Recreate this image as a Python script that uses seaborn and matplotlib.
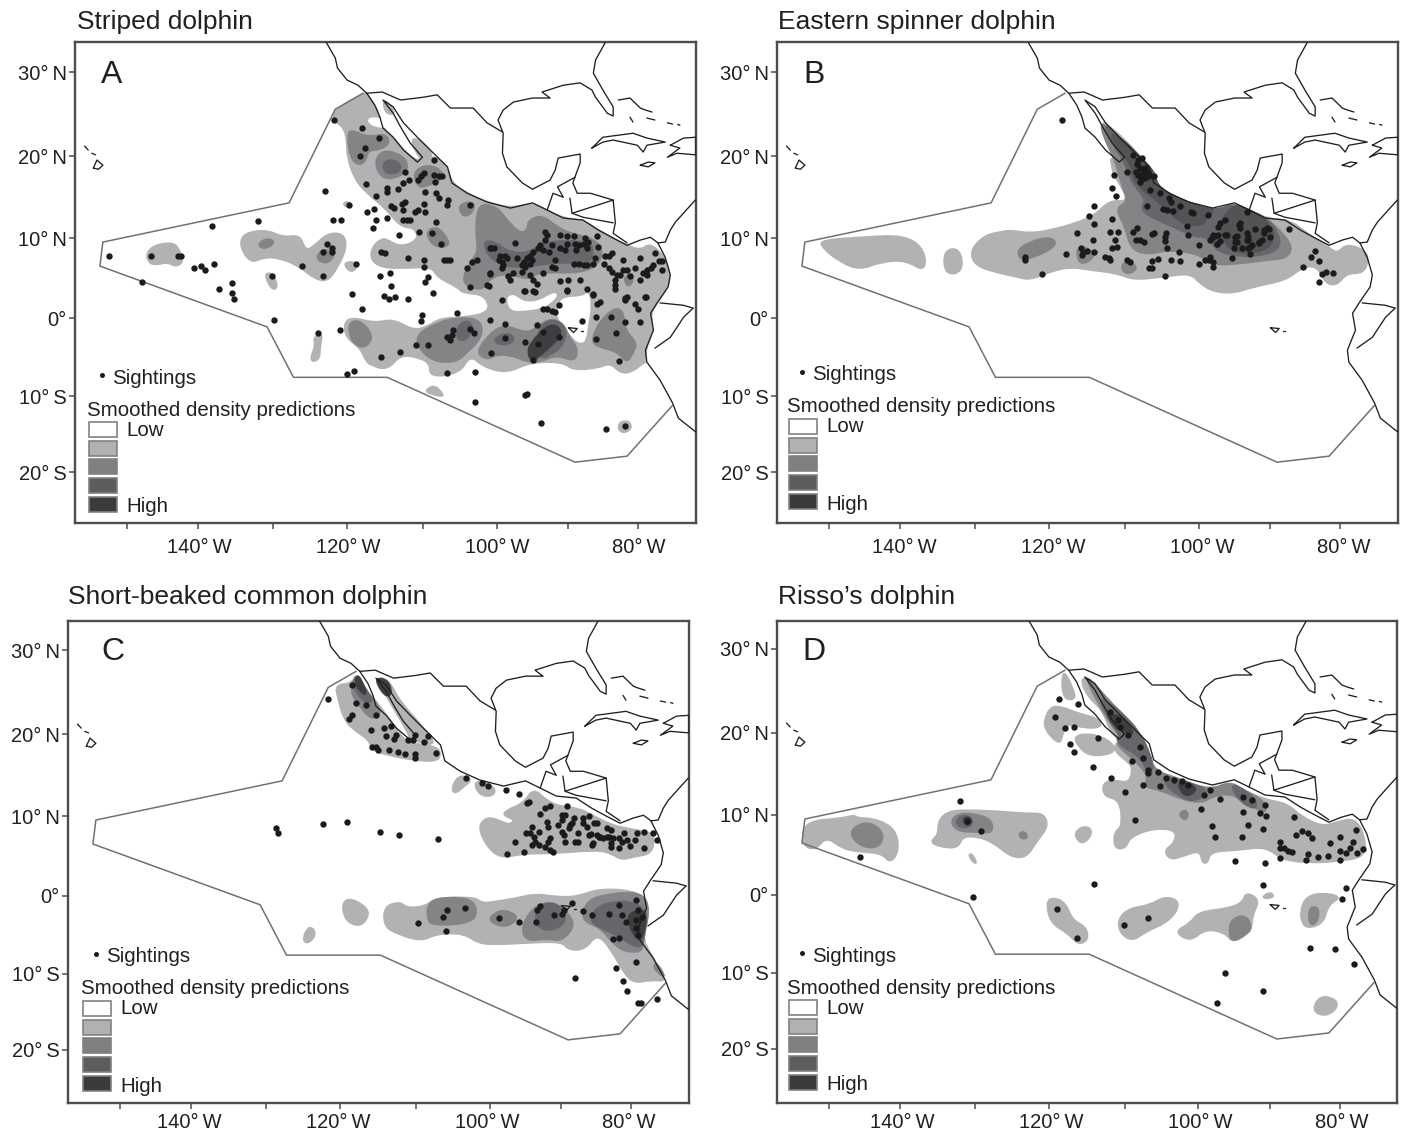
import matplotlib
matplotlib.use("Agg")
import matplotlib.pyplot as plt
import seaborn as sns
import pandas as pd
from matplotlib.patches import Rectangle, PathPatch
from matplotlib.path import Path
from matplotlib.lines import Line2D
from matplotlib.transforms import Affine2D

W, H = 1407, 1134
sns.set_theme(style="white")
plt.rcParams["font.family"] = ["Liberation Sans", "DejaVu Sans"]
TXT = "#231f20"

TITLES = ["Striped dolphin", "Eastern spinner dolphin", "Short-beaked common dolphin", "Risso\u2019s dolphin"]
LETTERS = ["A", "B", "C", "D"]
X_TICKS = [-149.7, -140, -129.8, -119.7, -109.3, -99.3, -89.5, -80]
X_LABELS = ["", "140\u00b0\u2009W", "", "120\u00b0\u2009W", "", "100\u00b0\u2009W", "", "80\u00b0\u2009W"]
Y_TICKS = [30.75, 20.25, 10, 0, -9.75, -19.25]
Y_LABELS = ["30\u00b0\u2009N", "20\u00b0\u2009N", "10\u00b0\u2009N", "0\u00b0", "10\u00b0\u2009S", "20\u00b0\u2009S"]
LEGEND_LABELS = ["Sightings", "Smoothed density predictions", "Low", "High"]

# ---- base map (lon, lat) ----
WEST_COAST = [(-122.5,34.4),(-121.3,32.5),(-121,31.25),(-119.7,29.75),(-118.2,29.1),(-117,28.1),(-115.9,26.6),(-115.2,25.1),(-114.8,23.75),(-113.4,22.6),(-112,21),(-110.1,19.5),(-109.4,20.1),(-111.1,21.9),(-112.4,23.9),(-113.4,25.6),(-114.8,27.25),(-113.4,26.4),(-112,24.4),(-110,22.5),(-107.9,20.6),(-106,18.9),(-105.4,16.9),(-103.3,15.6),(-100.6,14.5),(-97.4,13.75),(-94.4,14.4),(-92.4,13.5),(-90.2,12.5),(-87.5,12.25),(-85.4,11),(-83.4,10),(-81.5,9.1),(-79.7,9.75),(-78.3,10.1),(-77.3,9.4),(-76.3,7.6),(-75.6,5.4),(-75.9,3.9),(-77.4,1.9),(-78.3,0.6),(-77.9,-1.5),(-79,-4),(-78.8,-5.5),(-77,-7.75),(-75.3,-10.6),(-74.5,-12.5),(-72.1,-14.25)]
US_BORDER = [(-117,28.1),(-114.9,28.25),(-112.4,27.25),(-109.3,27.6),(-107.4,27.9),(-105.6,26.25),(-103.9,26.25),(-102.5,26.25),(-100.6,24.4),(-98.5,23.25)]
GULF_COAST = [(-84.5,34.4),(-85.8,32.25),(-86.1,30.6),(-84.8,28.5),(-83.4,26.4),(-83.4,25.25),(-84.2,25.6),(-85.8,27.6),(-86.3,28.5),(-87.9,29.4),(-90.2,29.1),(-93.1,28.25),(-92,27.5),(-94.4,27.5),(-97,27),(-98.4,26),(-99.1,24.75),(-98.4,23.1),(-98.5,20.6),(-97.9,18.9),(-95.8,16.9),(-94.4,16.1),(-92,17.25),(-91.3,18.5),(-90.9,20),(-87.9,20.5),(-87.9,19.4),(-88.9,16.9),(-88.3,15.6),(-86.5,15.6),(-83.4,14.75),(-83.1,11.9),(-83.4,10.6),(-81.5,9.4)]
COLOMBIA_N = [(-77.3,9.4),(-76.3,9.5),(-75.6,11),(-74.9,12),(-72.2,14.75)]
BORDER_1 = [(-92.4,13.5),(-91.6,15.6),(-90.2,15.1),(-91,16.4),(-88.6,17.6)]
BORDER_2 = [(-89.3,15),(-89,13.1),(-87.5,12.6),(-83.4,11.9)]
BORDER_3 = [(-89,13.1),(-85.6,14.1),(-83.4,14.75)]
ECUADOR_N = [(-77,1.9),(-73.8,1.6),(-72.5,1.25)]
ECUADOR_S = [(-72.5,1.25),(-73.8,0.1),(-75.6,-2.4),(-77.7,-3.75)]
CUBA = [(-86.3,21.25),(-84.8,22.6),(-80.7,23.1),(-78.8,22.5),(-76.3,22),(-78.8,21.6),(-79.3,20.75),(-80.1,21.6),(-83.4,22.25),(-84.8,22),(-86.3,21.25)]
HISPANIOLA = [(-75.6,21.6),(-73.8,22.5),(-72.1,22.6),(-72.1,20.4),(-74.7,20.6),(-76,20.1),(-74.3,21.25),(-75.6,21.6)]
JAMAICA = [(-79.7,19.1),(-78.6,19.5),(-77.7,19.4),(-78.6,18.9),(-79.7,19.1)]
BAHAMAS_1 = [(-82.7,27.25),(-81.1,27.5),(-79.7,26.25),(-79,26),(-78.1,25.75)]
BAHAMAS_2 = [(-81.1,25.1),(-80.7,24.5)]
BAHAMAS_3 = [(-78.8,25),(-77.7,24.75)]
BAHAMAS_4 = [(-76,24.4),(-75.3,24.25)]
BAHAMAS_5 = [(-74.6,24.2),(-74.3,24.1)]
HAWAII_BIG = [(-154.3,18.75),(-153.8,19.75),(-153,19.1),(-153.6,18.6),(-154.3,18.75)]
HAWAII_1 = [(-155.5,21.5),(-155,21)]
HAWAII_2 = [(-154.5,20.6),(-154,20.4)]
GALAPAGOS = [(-89.5,-1.2),(-88.8,-1.8),(-88.3,-1.3),(-89.5,-1.2)]
GALAPAGOS_2 = [(-87.8,-1.6),(-87.5,-1.6)]
COAST_LINES = [WEST_COAST, US_BORDER, GULF_COAST, COLOMBIA_N, BORDER_1, BORDER_2, BORDER_3, ECUADOR_N, ECUADOR_S, CUBA, HISPANIOLA, JAMAICA, BAHAMAS_1, BAHAMAS_2, BAHAMAS_3, BAHAMAS_4, BAHAMAS_5, HAWAII_BIG, HAWAII_1, HAWAII_2, GALAPAGOS, GALAPAGOS_2]
STUDY_AREA = [(-117.5,28.1),(-121.3,26.1),(-127.6,14.4),(-153,9.5),(-153.4,6.5),(-130.6,-1.1),(-127,-7.4),(-114.2,-7.4),(-88.6,-18),(-81.5,-17.25),(-75.3,-10.9)]

# ---- Panel A ----
A_SIGHT = [(-152.1,7.75),(-146.4,7.7),(-142.8,7.75),(-142.4,7.8),(-140.6,6.2),(-139.6,6.5),(-139.1,6),(-137.8,6.75),(-138.1,11.5),(-131.8,12.1),(-147.7,4.5),(-135.4,4.4),(-137.2,3.7),(-129.9,5.25),(-125.8,6.5),(-123,5.3),(-123,8.2),(-121.8,8.7),(-121.8,8.3),(-122.4,9.25),(-118.5,6.8),(-115.2,5.25),(-113.8,5.6),(-113.7,4),(-122.7,15.9),(-119.4,14.1),(-121.6,12.2),(-120.5,12.3),(-117,13.2),(-116,13.6),(-115.8,12.2),(-116.2,11.3),(-114.2,12.5),(-112.6,10.4),(-112,12.25),(-115.1,8.3),(-114.5,8.1),(-111.4,7.5),(-121.5,24.7),(-117.6,23.8),(-115.3,22.5),(-117.3,21.3),(-117.9,20.3),(-117.1,16.7),(-115.8,15.3),(-114.3,16.2),(-114.3,15.7),(-112.7,16.1),(-113.7,14),(-113.3,13.7),(-112.2,14.3),(-111.8,14.5),(-112.1,13.5),(-111.8,18.3),(-112,16.9),(-111.3,17.25),
(-135.4,3.2),(-135.1,2.45),(-129.6,-0.25),(-123.6,-1.8),(-120.7,-1.5),(-119.7,-7),(-118.8,-6.6),(-115,-4.9),(-112.5,-4.2),(-117.7,1.1),(-119,3),(-114.6,2.8),(-114,2.4),(-113.1,2.6),(-111.4,2.45),
(-109.6,17.7),(-109.2,18.1),(-110,17.25),(-107.9,19.8),(-107.9,17.9),(-107.2,17.7),(-107.7,17),(-106.8,17.8),(-109,15.8),(-107.5,15.6),(-107.1,15),(-105.9,14.7),(-106.1,14.1),(-109.2,14.3),(-109,13.2),(-110.4,13.3),(-110,13.5),(-111.5,12.3),(-111.1,12.2),(-107.5,12),(-109.9,10.8),(-108.1,10.6),(-106.9,9.3),(-102.9,14.1),(-106.1,7.25),(-106.5,7.25),(-105.6,7.25),(-109.2,7.3),(-109.2,6.4),(-108.7,5.1),(-109,4.5),(-103.4,6.2),(-102.7,7),(-102,7.25),(-102.9,3.9),(-100.4,4),(-100.2,5.5),(-100,8.8),(-96.8,9.4),
(-108,3.2),(-109.5,0.4),(-109.6,-0.3),(-104.7,0.7),(-110.3,-3.3),(-108.7,-3.3),(-106.1,-2.4),(-105.6,-2.7),(-105.2,-1.5),(-102.9,-1.4),(-102.4,-1.8),(-105.4,-2.1),(-106,-6.8),(-102.3,-6.7),(-100.2,-0.25),(-98.1,-0.7),(-98.1,-2.5),(-100,-4.3),(-95.4,-3),(-93.8,-0.9),(-92.9,-1.7),(-93.6,-3.2),(-90.8,-2.3),(-94.3,-5.25),(-93,1.2),(-92.4,1.2),(-91.8,0.9),(-91.3,0.8),(-90.8,1.6),(-87.7,-0.4),(-85.8,0.2),(-85.6,1.8),(-85.2,2),(-83.7,0.2),(-85.7,-2.55),(-83,-1.9),(-82.6,-5.35),(-81.8,2.5),(-80.4,1.8),(-80,1.2),(-81.8,-0.5),(-79.8,-0.5),(-78.9,2.6),(-86.1,3),(-89.7,3.5),(-94,3.3),(-95.4,3.4),(-98.6,2.25),(-102.2,-10.5),(-95.4,-9.6),(-95.1,-9.5),(-93.2,-13.1),(-84.4,-13.8),(-81.8,-13.5)]
A_CLUSTER = [(-100.2,8.8),(-99.7,8.8),(-98.8,7.7),(-98.1,7.8),(-97.9,7.45),(-98.6,7),(-99,7.25),(-98.4,6.6),(-98.6,6.2),(-96.5,7.45),(-95.6,7),(-95.9,6.6),(-95.2,7.45),(-94.7,7.7),(-94.3,8.3),(-94.5,7.25),(-95.4,6.4),(-94.7,6.8),(-93.6,8.7),(-93.4,9.1),(-92.7,9.75),(-92.4,10.4),(-92.7,10.8),(-92.9,8.5),(-92.2,8.3),(-91.8,9.1),(-90.6,8.7),(-90.6,10.4),(-89.7,10.2),(-88.8,10.2),(-89.7,9.3),(-89.9,8.5),(-88.6,9.3),(-88.1,9.1),(-88.4,8.5),(-87.2,10),(-86.8,9.55),(-87,8.7),(-87.4,9.3),(-85.6,10.2),(-85.4,8.9),(-85.9,7.45),(-86.1,6.7),(-88.1,6.7),(-87.4,6.6),(-87,6.6),(-88.8,6.7),(-91.8,6.4),(-91.3,6.2),(-91.3,7.25),(-92.9,5.6),(-94.7,5.4),(-95.9,5.8),(-97,5.6),(-97.7,5.2),(-97.5,4.75),(-100.2,5.6),(-100.6,4.1),(-94.3,4.75),(-93.8,4.3),(-95.6,3.4),(-94.3,3.4),(-90.6,4.6),(-89.5,4.75),(-87.9,4.75),(-89.7,3.4),(-87,3.6),(-86.1,2.95),
(-84.5,7.7),(-84,7.7),(-83.6,8.1),(-84.7,6.7),(-84,6.2),(-83.6,5.8),(-82.9,5.4),(-83.1,4.75),(-83.1,4.1),(-83.1,3.6),(-82.4,5.4),(-82,7.25),(-80.4,6.3),(-81.5,6),(-82,6),(-79.7,7.45),(-78.8,6),(-78.3,6.2),(-79.3,5.6),(-78.8,5.4),(-77.9,6.6),(-77.7,8.1),(-77.2,7.1),(-76.8,7.1),(-76.8,6),(-79.7,4.75),(-81.1,5.2),(-81.5,2.7),(-81.8,2.25),(-79,2.7)]
A_L1 = [
[(-121.3,26.1),(-117.5,28.1),(-117,28.1),(-115.9,26.6),(-115.2,25.1),(-114.8,23.75),(-113.4,22.6),(-112,21),(-110.1,19.5),(-107.9,20.4),(-106,18.9),(-105.4,16.9),(-103.3,15.6),(-100.6,14.5),(-97.4,13.75),(-94.4,14.4),(-92.4,13.5),(-90.2,12.5),(-87.5,12.25),(-85.4,11),(-83.4,10),(-81.5,9.1),(-79.7,8.5),(-78.3,9.4),(-76.3,7.6),(-75.6,5.4),(-75.9,3.9),(-77.4,1.9),(-78.3,.6),(-77.9,-1.5),(-79,-4),(-78.8,-5.5),(-79.7,-5.25),(-100.2,-.25),(-100.6,2.9),(-103.9,3.1),(-104.7,3.9),(-107.4,5.1),(-108.1,6.4),(-111.5,6.25),(-114.8,6.25),(-116.5,7.25),(-116.3,8.9),(-114.9,10),(-114.1,9.75),(-112.4,8.9),(-110,9.75),(-110.4,11.25),(-112.4,11.4),(-114.5,13.75),(-117,15.6),(-118.6,17.25),(-119.7,20.1),(-119.7,22.25),(-120.2,23.9),(-121.7,24.75)],
[(-120.1,-.5),(-118.9,.1),(-115.9,-.6),(-113.4,-.1),(-110.7,-1.5),(-108.8,-1.1),(-107,0),(-103.9,.1),(-100.6,.6),(-100.2,2.25),(-90.6,2.25),(-79.7,1),(-78.8,-5.5),(-79.3,-5.6),(-80.8,-6.75),(-82.4,-6.9),(-83.8,-5.6),(-85.4,-6.25),(-88.9,-6.5),(-90.2,-5.5),(-94.7,-5.5),(-97.9,-6.9),(-101.1,-6.1),(-102.9,-4.6),(-104.3,-6.9),(-108.4,-7.4),(-108.4,-5.6),(-110.1,-4.9),(-112.4,-4.6),(-114.2,-6.5),(-116.5,-5.9),(-117.2,-5.25),(-117.9,-3.75),(-119.9,-2.4)],
[(-147.1,8),(-146.1,9.1),(-143.4,9.5),(-142.5,8.5),(-142,7),(-143.1,6.4),(-144.2,7),(-145.9,6.6),(-146.8,7)],
[(-134.3,9.75),(-133.3,10.75),(-130.5,11),(-128.4,10.1),(-126.1,10.4),(-125.4,8.5),(-124.3,8.9),(-122.4,10.6),(-120.2,10.6),(-119.7,8.9),(-120.9,6.4),(-122.4,4.5),(-124.3,5),(-126.1,6.4),(-128.8,7.5),(-131.1,7.6),(-132.6,6.9),(-133.9,8.1)],
[(-120.2,14.4),(-119.5,14.6),(-119,13.9),(-120,13.9)],
[(-120.1,6.9),(-118.9,7.1),(-118.2,6.6),(-118.9,5.75),(-119.7,6.1)],
[(-130.9,5.6),(-129.8,5.6),(-129.1,3.9),(-129.8,3.5),(-130.5,4.4)],
[(-124.3,-2.4),(-123,-1.9),(-123.4,-3.6),(-123.4,-5),(-124.3,-5.5),(-124.7,-5),(-124,-3.4)],
[(-109,-9),(-107.9,-8.4),(-107,-9),(-106.4,-9.9),(-108.6,-9.4)],
[(-114.8,27.25),(-113.8,26.75),(-113.1,25.4),(-114.5,25.6)],
[(-111.1,22.25),(-110,22.5),(-107.9,20.6),(-108.6,19.1),(-109.7,19.75)],
[(-82.6,-13),(-81.3,-12.8),(-80.8,-13.7),(-81.8,-14.4),(-82.7,-14)],
]
A_HOLES = [
[(-97.9,2.5),(-97,2.9),(-96.1,2.25),(-95.1,1.9),(-93.4,2.1),(-91.6,3.1),(-91,2.9),(-92,1.9),(-93.4,1.25),(-95.7,1),(-97.4,1)],
[(-90.6,2.5),(-87.5,2.6),(-86.8,3.25),(-86.5,1.4),(-86.9,-.6),(-87.2,-2.75),(-87.9,-3.1),(-88.9,-2.4),(-90.2,-.9),(-90.9,.1),(-90.9,.75)],
[(-117,24.75),(-115.9,25.1),(-114.2,24.5),(-113.8,23.9),(-115.9,23.9)],
]
A_L2 = [
[(-119.7,23.1),(-118.9,23.5),(-116.8,22.6),(-114.5,23.1),(-113.8,21.9),(-115.2,21),(-116.8,21),(-117.2,19.5),(-118.2,19.1),(-119.3,20.1)],
[(-115.9,19.75),(-114.9,20.9),(-113.1,20.75),(-111.5,19.75),(-111.5,18.25),(-113.8,17.25),(-115.4,17.9)],
[(-110.7,18.1),(-109.3,19.1),(-107.4,18.9),(-106.3,17.6),(-108.4,16.6),(-110,16.25)],
[(-104.5,13.9),(-103.6,14.5),(-102.2,14.4),(-102.6,13.1),(-103.9,12.6)],
[(-108.8,11),(-107.4,11.4),(-106.3,10.4),(-105.6,9.1),(-107.3,8.75),(-108.6,9.75)],
[(-101.8,14.4),(-99.2,13.9),(-97.9,12.25),(-96.1,10.6),(-95.1,11),(-95,12.25),(-93.1,12.9),(-91,11.4),(-89.3,10.6),(-86.1,10),(-84.8,8.5),(-85.2,6.9),(-87.5,5.6),(-93.8,5.75),(-94.7,4.75),(-97.9,5.6),(-100.2,5),(-101.1,3.5),(-103.3,3.9),(-104,5.1),(-102.6,7.25),(-101.8,8.5),(-102.2,11)],
[(-82,5.1),(-80.8,5.6),(-80.7,4.4),(-81.5,3.9)],
[(-86.5,-3.1),(-85.4,-.6),(-83.4,1.25),(-82,1),(-81.8,-1.5),(-80.1,-3.1),(-80.7,-4.4),(-81.5,-5.6),(-82.8,-4.25),(-84.8,-3.75)],
[(-119.4,-.5),(-117.9,-.25),(-116.3,-1.9),(-116.5,-3.1),(-117.6,-3.75),(-118.9,-3.1),(-119.4,-1.9)],
[(-131.8,9.4),(-130.5,10),(-129.5,9.5),(-130.5,8.75),(-131.5,8.75)],
[(-124,7.6),(-122.9,8.75),(-121.3,8.1),(-122,7),(-123.1,6.9)],
[(-110.1,-1.9),(-107.4,-.6),(-105.2,0),(-101.9,0),(-101.1,-1.5),(-101.9,-3.1),(-103.3,-4.25),(-104.7,-5.5),(-107.9,-5.5),(-110.1,-3.6)],
[(-102.2,-4.25),(-99.8,-1.5),(-97.9,-.9),(-95.1,-1.9),(-93.8,-1.1),(-92,0),(-90.2,-.6),(-89.3,-2.5),(-88.2,-3.75),(-88.6,-5.5),(-91,-4.6),(-93.4,-5.5),(-95.1,-5.5),(-97.4,-4.6),(-99.5,-4.6),(-100.6,-5.25)],
]
A_L3 = [
[(-114.9,19.4),(-113.5,19.9),(-112.2,19.1),(-112.7,18.1),(-114.5,18)],
[(-100.9,9.75),(-99.2,9.4),(-97.7,8.25),(-95.1,8.1),(-92.9,9.4),(-89.7,9.75),(-86.5,9.4),(-86.1,8.5),(-86.5,6.9),(-88.3,6.9),(-92,6.9),(-94.7,6.4),(-97.9,6.4),(-99.8,7.25),(-100.9,8.5)],
[(-104.7,-.9),(-103.2,-.25),(-102.5,-1.1),(-103.3,-2.75),(-104.7,-2.75)],
[(-99.8,-2.75),(-98.4,-1.9),(-97,-2.1),(-97,-3.1),(-98.8,-3.4)],
[(-93.8,-1.25),(-91.6,0),(-89.7,-1.25),(-90.2,-3.4),(-91.6,-4.4),(-93.4,-5.25)],
]
A_L5 = [[(-94.7,-3.1),(-92.4,-.9),(-90.9,-.9),(-90.4,-2.1),(-92,-3.6),(-93.8,-5),(-94.4,-5.5),(-95.1,-4.4)]]

# ---- Panel B ----
B_SIGHT = [(-117.95,24.75),(-110.9,17.9),(-111.1,16.3),(-110.5,15.25),(-113.5,14.05),(-114.2,12.8),(-113.5,11.7),(-111.1,12.4),(-115.9,10.65),(-111.4,10.75),(-110.3,10.75),(-110.7,9.75),(-113.7,9.8),(-111.1,8.8),(-110.4,8.9),(-115.4,8.7),(-115,8.3),(-115.2,7.9),(-114.5,8.4),(-113.6,8.2),(-117.4,8.05),(-123,7.65),(-123,7.3),(-120.6,5.55),(-112,7.65),(-111.5,7.55),(-111.4,7.25),(-108.2,10.8),(-107.7,11.2),(-105.4,10.65),(-105.7,10.5),(-107.8,9.75),(-107.3,9.75),(-106.8,9.55),(-103.8,10.65),(-103.9,10.15),(-103.9,9.6),(-103.6,8.8),(-102,8.3),(-109.1,7.3),(-108.6,7.05),(-104.8,7.4),(-105.7,7.1),(-106.1,6.25),(-105.6,6.25),(-103.1,7.3),(-101.8,7.1),(-103.9,5.25),(-99.2,6.8),(-98.4,7.25),(-97.7,7.65),(-97.9,7.25),(-97.3,7.05),(-97.3,6.35),(-94.7,7.55),(-92.3,7.95),(-99.3,9.1),(-100.7,10.4),(-100.9,11.55),(-104.1,13.6),(-103.6,13.5),(-102.8,13.4),(-106.4,14.05),(-109,18.2),
(-108.2,20.4),(-107.5,19.75),(-107,20),(-107.3,18.7),(-106.6,18.7),(-107.5,17.9),(-106.8,17.9),(-106.1,17.7),(-105.4,17.7),(-107.3,17),(-106.6,17.45),(-105.9,16),(-104.5,15.6),(-103.4,15),(-103,14.55),(-101.8,14.05),(-100.4,13.3),(-100.1,13.1),(-98,12.9),(-96.4,11.9),(-95.7,12.25),(-96.6,11.4),(-93.6,11.85),(-93.6,11.2),(-97.3,10.35),(-96.6,10.35),(-97.7,9.8),(-96.4,9.65),(-96.8,9.2),(-95.4,10.35),(-94.3,10.15),(-94.3,9.55),(-92.7,10.65),(-92.5,10.15),(-92.5,9.75),(-91.6,11.1),(-90.4,11),(-90,11.2),(-90.4,10.6),(-89.5,10.15),(-90.7,9.75),(-91.1,9.35),(-92,9.1),(-92.5,8.7),(-93.4,8.8),(-94.5,8.8),(-92.7,13.3),(-87,11.1),(-83.4,8.4),(-84,7.65),(-82.9,7.1),(-85.1,6.35),(-82.5,5.5),(-81.9,5.7),(-80.9,5.65),(-82.9,4.45),
(-107.7,19.2),(-106.9,18.3),(-107.9,18.2),(-107.1,17.4),(-106.3,18.2),(-97.5,10),(-97,10.25),(-96.8,9.3),(-93.8,11.6),(-94.1,10.25),(-94.1,9.5),(-92.7,9.75),(-91.1,9.5),(-92.3,8.9),(-89.75,11.1),(-95.7,10.4)]
B_L1 = [
[(-111.4,20.2),(-109.5,19.4),(-109.3,20.2),(-111.4,22.25),(-112.7,24.55),(-111.6,24.1),(-109.5,22.45),(-107.3,20.2),(-105.2,18.1),(-105,16.6),(-102.7,15.2),(-99.1,13.9),(-96.8,13.5),(-94.5,14.3),(-92.3,13.5),(-90,12.45),(-86.8,12.25),(-84.5,10.6),(-81.6,8.9),(-80.4,8.1),(-79.1,9.3),(-76.6,8.5),(-76.1,7.25),(-76.8,5.6),(-79.1,5.6),(-80.4,4.1),(-82,4.3),(-83.2,6.6),(-85.4,6.2),(-87.3,4.75),(-91.8,3.9),(-94.5,3.1),(-97.3,3.3),(-99.1,4.3),(-100.4,5.6),(-104.1,5.15),(-108.2,4.75),(-110.4,5.6),(-114.1,6),(-116.8,6.4),(-119.5,5.8),(-122.3,4.75),(-124.1,5.15),(-126.4,5.6),(-129.8,6.5),(-130.5,8.5),(-128.4,10.4),(-126.4,10.75),(-125,11),(-122.3,10.6),(-119.5,11),(-116.1,11.85),(-113.4,12.9),(-111.4,14.75),(-108.9,14.55),(-109.8,16.4),(-110.9,17.9),(-111.1,18.9)],
[(-150.9,9.75),(-145.5,10.1),(-139.3,10.4),(-136.6,8.5),(-136.6,5.75),(-139.3,7.25),(-142.7,7),(-145.5,6),(-148.2,7),(-150.6,8.75)],
[(-134.1,8.5),(-131.8,8.75),(-131.4,5.75),(-133.9,5.4)],
]
B_L2 = [
[(-124.1,8.5),(-122.3,9.55),(-119.8,10.15),(-118.6,9.55),(-119.5,8.5),(-122.3,7.45),(-123.6,7.25)],
[(-115.8,8.7),(-115,9),(-113.3,8.1),(-114.3,7),(-115.4,6.8),(-115.9,7.65)],
[(-109.9,6.6),(-108.9,7.2),(-107.6,6.4),(-108.4,5.6),(-109.5,5.65)],
[(-112.7,24.55),(-110.9,23.3),(-107.3,20.2),(-105.2,18.1),(-105,16.6),(-102.7,15.2),(-99.1,13.9),(-96.8,13.5),(-94.5,14.3),(-92.3,13.5),(-90,12.45),(-88.2,11),(-86.4,8.9),(-87.3,7.45),(-90,7.25),(-93.6,6.8),(-97.3,6.6),(-99.5,8.1),(-103.6,8.5),(-106.4,7.9),(-108.6,8.7),(-109.3,11.4),(-110.7,13.7),(-108.9,14.55),(-109.8,16.6),(-110.7,19.75),(-112.3,22.65)],
]
B_L3 = [[(-112.3,24.35),(-110.9,23.3),(-107.3,20.2),(-105.2,18.1),(-105,16.6),(-102.7,15.2),(-99.1,13.9),(-96.8,13.5),(-94.5,14.3),(-92.3,13.5),(-90,12.45),(-88.6,11),(-88,8.9),(-90,7.9),(-93.6,7.65),(-96.8,8.3),(-98,10.15),(-100,10.15),(-102.7,11.4),(-105,12.25),(-107.3,13.5),(-106.4,14.75),(-108.4,16.85),(-109.5,19.75),(-110.9,21.4)]]
B_L4 = [
[(-111.6,23.3),(-109.5,22.25),(-107.3,20.2),(-105.2,18.1),(-105,16.6),(-102.7,15.2),(-99.1,13.9),(-97,13.5),(-98.2,12.65),(-98.6,11.6),(-100.9,11.6),(-102.7,12.65),(-105,14.75),(-107.3,16.2),(-108.4,17.9),(-108.6,19.3),(-110,20.8)],
[(-96.4,12.05),(-94.5,14.3),(-92.3,13.5),(-90,12.25),(-88.8,10.15),(-90,8.5),(-92.7,8.1),(-95,8.5),(-96.1,10.15)],
]

# ---- Panel C ----
C_SIGHT = [(-121.4,24.6),(-118.1,26.4),(-117.5,24.1),(-116.2,23.9),(-118.1,22.6),(-118.5,22.1),(-115.5,20.8),(-114.8,22.6),(-113.7,21),(-112.7,21.25),(-113.4,20),(-112,20.1),(-112.3,19.7),(-110.4,19.5),(-109.7,19.5),(-109.5,20.2),(-107.7,20),(-108.2,19.3),(-115.4,18.6),(-114.8,18.6),(-114.5,18.25),(-113,18.25),(-111.8,18),(-110.8,17.75),(-109.5,17.8),(-109.5,17.3),(-106.6,17.9),(-102.5,14.8),(-100.3,14.1),(-99.5,13.8),(-97,13.25),(-95.3,12.7),(-93.9,11.7),
(-128.4,8.45),(-128.2,7.9),(-122,9.05),(-118.7,9.2),(-114.3,7.95),(-111.6,7.6),(-106.3,7.1),
(-109,-3.4),(-105.3,-4.4),(-105.7,-2.6),(-105.1,-1.75),(-102.7,-1.55),(-98,-2.8),(-95.3,-3.2),(-93,-3.3),(-92.8,-1.75),(-92.4,-1.3),(-90.5,-2.4),(-89.4,-2.2),(-88,-.9),(-89.1,-1.75),(-86.6,-1.9),(-85.3,-2.4),(-83,-2.2),(-81.6,-1.1),(-81.3,-2.4),(-80.7,-3.2),(-79.3,-.5),(-79,-1.75),(-79.3,-3),(-78.5,-2.6),(-79.3,-4),(-79,-4.9),(-82.4,-5.4),(-81.6,-5.2),(-79.3,-8.3),(-82,-9),(-87.7,-10.3),(-81.1,-10.6),(-80.6,-11.9),(-79,-13.4),(-78.6,-13.4),(-76.5,-12.9)]
C_CLUSTER = [(-95.8,6.7),(-96.9,5.25),(-94.6,5.45),(-92.4,10.25),(-91.7,11),(-91,11.2),(-94.2,11.65),(-88.8,11.3),(-93.5,8.65),(-94.4,7.85),(-93.8,7.85),(-93.3,7.4),(-92.6,8.05),(-93.1,6.8),(-93.5,6.4),(-92.6,6.4),(-91.5,9.3),(-91.3,8.65),(-91.7,6.15),(-91,5.75),(-90.6,5.55),(-91,7.2),(-91.3,6.8),(-89.4,10.1),(-89,10.1),(-89.4,9.5),(-89.9,8.9),(-89.4,8.05),(-89.2,7.6),(-88.5,8.45),(-88.1,9.1),(-87.8,9.7),(-88.3,8.9),(-87.2,7.85),(-86.5,9.7),(-85.8,10),(-86.5,9.1),(-86,8.65),(-85.1,9.1),(-84.7,9.1),(-85.8,7.6),(-84.7,7.6),(-84.2,7.4),(-83.3,8.45),(-82.8,8.25),(-85.3,6.4),(-89,6.7),(-87.6,6.7),(-87.2,6.7),(-83.3,7.4),(-82.4,7.2),(-81.7,7.2),(-81,7.85),(-80.6,7),(-81.2,6.7),(-82.8,6.6),(-81.7,6),(-80.1,6.2),(-79.4,7),(-79.2,7.85),(-78.3,8.05),(-78.2,6),(-77,7.9),(-76.5,7),(-85.5,7.7),(-84.4,7.4),(-83.8,7.2),(-83,7.4),(-85.2,6.6),(-82.7,6.1)]
C_L1 = [
[(-120.4,26.4),(-118.1,26.6),(-117.3,27.9),(-116.2,25.75),(-114.5,24.1),(-112.9,22),(-111.5,20.1),(-110.1,19.1),(-106.4,18.7),(-105.9,17.6),(-106.7,16.8),(-109.8,17),(-113.1,17.6),(-115.4,18.25),(-115.7,19.5),(-118.2,21),(-119.3,22.4),(-119.9,24.5)],
[(-114.8,27.4),(-113.1,27.1),(-111.5,24.3),(-108.4,21.2),(-106.4,18.7),(-110.1,19.5),(-110.6,20.75),(-113.1,24.5)],
[(-104.5,13.25),(-103.9,14.7),(-102.8,15.1),(-101.7,14.5),(-102.8,13.7),(-103.9,12.8)],
[(-101.4,13.7),(-100.9,14.5),(-98.6,13.7),(-98.6,12.6),(-100.3,12.4)],
[(-100.9,8.65),(-99.7,9.9),(-98,9.5),(-96.7,8.9),(-95.8,9.5),(-97.5,10.1),(-97,10.75),(-94.7,11.6),(-93.3,13.5),(-91.6,12),(-89.7,11.2),(-87.2,11),(-85.2,10.1),(-82.7,8.9),(-80.5,8.45),(-77.9,8.05),(-76.8,7.6),(-77.1,5.3),(-79.6,4.9),(-81.3,4.5),(-82.7,5.3),(-84.6,5.75),(-90.8,5.3),(-94.7,5.3),(-97.8,4.7),(-99.7,6.2)],
[(-119.3,-.7),(-118.2,-.3),(-116.2,-1.3),(-115.7,-2.4),(-116.8,-3.8),(-118.5,-3.4),(-119.3,-2.2)],
[(-124.8,-5.3),(-124,-3.8),(-123.1,-4.25),(-123.2,-5.3),(-124.3,-6)],
[(-113.7,-1.3),(-111.5,-.7),(-110.6,-1.5),(-108.1,-1.3),(-106.7,-.3),(-101.4,-.1),(-100.3,-.9),(-98.6,-.7),(-95.8,-.3),(-93,.3),(-90.2,-.1),(-87.4,-.1),(-84.1,1),(-78.5,.5),(-77.4,-1.75),(-78.5,-5.1),(-77.4,-7.2),(-74.9,-10.7),(-77.4,-10.5),(-79.3,-10.9),(-80.7,-10.1),(-82.7,-6.75),(-84.6,-4.7),(-86.3,-6.75),(-88.6,-6.75),(-89.4,-5.7),(-94.7,-5.9),(-98.6,-6.1),(-100.9,-5.9),(-102.8,-4.7),(-106.4,-4.7),(-108.7,-5.7),(-112,-4.7),(-113.7,-3.8)],
]
C_L2 = [
[(-117.9,26.4),(-117.3,27.9),(-116.2,25.75),(-114.3,23.7),(-114.3,22.4),(-115.7,22.2),(-117.1,23.9),(-118.2,25.3)],
[(-107.8,-1.3),(-106.7,-.2),(-102,-.2),(-100.9,-1.75),(-101.7,-3.4),(-107.3,-3.75),(-107.8,-2.6)],
[(-99.7,-3),(-98,-1.75),(-96.4,-1.95),(-95.3,-2.8),(-97.2,-4.05)],
[(-95,-3.6),(-92.8,-.9),(-90,-.9),(-87.4,-3.4),(-89.4,-5.7),(-91.4,-5.3),(-94.4,-5.7)],
[(-86.9,-3),(-86,-.5),(-83,.3),(-78.5,.5),(-77.4,-1.75),(-78.5,-5.9),(-78.5,-7),(-81,-7),(-82.7,-5.7),(-84.1,-4.05)],
[(-77.1,-9),(-76.5,-8.2),(-75.1,-10.5)],
]
C_L3 = [
[(-118.1,26.6),(-117.3,27.9),(-116.2,25.75),(-115.1,24.5),(-116,24.1),(-117.1,24.9)],
[(-93,-1.75),(-91.4,-.7),(-89.4,-1.3),(-88.8,-3.4),(-91.1,-4.45),(-93,-3.8)],
[(-85.8,-3),(-84.6,-1.3),(-82.4,-.7),(-79.9,-.7),(-77.9,-1.75),(-78.2,-5.9),(-79,-6.5),(-80.7,-5.7),(-82.4,-4.7),(-84.1,-4.05)],
]
C_L5 = [
[(-117.7,26.8),(-117.2,27.8),(-116.2,25.75),(-116.2,25.1),(-117.1,25.75)],
[(-114.8,27.3),(-113.1,27),(-112.6,25.3),(-113.4,24.9),(-114.5,26.2)],
[(-80.7,-2.6),(-79.3,-1.75),(-77.7,-2),(-78.5,-5.7),(-79.6,-5.1)],
]

# ---- Panel D ----
D_SIGHT = [(-118.3,24.45),(-115.7,23.85),(-118.8,22.2),(-117.5,20.9),(-116.3,21),(-113,19.6),(-116.8,18.85),(-116.3,17.85),(-113.7,16.05),(-111.2,14.6),(-109.3,12.9),(-106.9,13.7),(-108.3,16.7),(-106.9,17.1),(-107.3,18.55),(-111.4,22.9),(-110.3,21.9),(-110,21),(-108.9,20),(-106.2,15.6),(-106.2,15.2),(-104.8,15.4),(-103.7,14.6),(-102.6,14.4),(-101.5,14.2),(-100.7,13.75),(-104.5,13.6),(-98.5,12.5),(-97.7,13.1),(-96.3,12),(-99,10.8),(-93.2,10.4),(-93.2,12.3),(-92,11.9),(-90.9,10.2),(-90.2,11.25),(-90.1,9.9),(-108,9.4),(-97.4,8.6),(-92.5,8.75),(-90.5,8.25),(-97,7.3),(-93.3,7.2),(-86.3,9.8),(-86,7.5),(-85.1,8.05),(-84.3,7.7),(-83.8,7.1),(-81.3,6.45),(-80,7.2),(-78.2,6.65),(-77.8,8.1),(-88.2,6.65),(-88.2,5.85),(-87.6,5.85),(-87.1,5.55),(-86.5,5.4),(-88.2,4.6),(-84.6,4.4),(-84.3,5.15),(-83,4.7),(-81.6,4.9),(-80,4.4),(-80,5.5),(-79.2,5.2),(-78.6,5.85),(-77.6,5.2),(-76.9,5.7),(-94.3,4.25),(-90.2,4),(-131.8,11.75),(-130.9,9.3),(-128.9,8),(-145.5,4.75),(-130.1,-.3),(-113.6,1.4),(-118.6,-1.75),(-115.9,-5.4),(-109.4,-3.7),(-106.2,-2.9),(-90.5,1.25),(-79.1,.9),(-79.7,-.5),(-84.1,-6.6),(-80.6,-6.8),(-78.1,-8.6),(-95.7,-9.75),(-90.5,-12),(-96.8,-13.45)]
D_L1 = [
[(-153.1,9.2),(-147.9,9.6),(-146.3,10),(-145.7,9.6),(-143.8,9.6),(-141.4,8.75),(-140.3,7.3),(-140.3,5.2),(-141.4,4),(-142.5,5.2),(-145.7,5.4),(-147.9,5.8),(-150.1,7.3),(-151.5,5.6),(-153.4,6.2)],
[(-135.9,6.7),(-134.8,7.5),(-134.8,9.4),(-133.2,10.6),(-129.4,10.6),(-125.5,10.4),(-122.8,10.2),(-120.3,10.2),(-119.8,8.5),(-121.2,6.9),(-122.8,4.6),(-125,4.8),(-127.2,6.5),(-129.4,7.3),(-131.5,7.3),(-132.1,5.8),(-134.8,6.05)],
[(-130.7,5),(-130.2,5.2),(-129.5,4),(-130,4)],
[(-116.3,7.5),(-115.4,8.5),(-114.1,8.5),(-113.8,7.5),(-115.2,6.25)],
[(-117.9,27.3),(-117.5,27.9),(-116.5,26),(-116,24.5),(-117.4,24.4),(-117.9,25.6)],
[(-120.3,21.9),(-119.5,23.55),(-117.9,23.55),(-115.7,22.7),(-113,22.1),(-112.4,21),(-114.6,20.8),(-117.3,21.5),(-117.9,19.8),(-118.2,18.9),(-119.5,19.8),(-120.3,21)],
[(-116.3,19.8),(-114.6,20.2),(-112.4,19.8),(-110.8,18.75),(-110.8,17.7),(-114.1,17.3),(-115.7,18.55)],
[(-115.4,27.1),(-114.1,27.1),(-111.6,24.4),(-109.7,22.7),(-107.5,20.6),(-105.9,17.7),(-105.4,15.6),(-101,14),(-97.7,13.1),(-95,14.2),(-93.1,13.1),(-90.1,11.9),(-87.3,11.5),(-85.2,9.8),(-82.4,8.55),(-80.2,9.2),(-78,9.6),(-76.7,7.7),(-76.4,4.8),(-80.2,4.2),(-84.1,4),(-87.9,4.4),(-90.1,6.05),(-93.9,5.6),(-97.7,5.4),(-98,4),(-98.8,4),(-99.1,5.6),(-101.5,4.8),(-103.2,4.4),(-104,5.6),(-102.6,6.45),(-102.3,8.1),(-105.3,8.35),(-108.6,7.3),(-109.2,5.8),(-110.8,5.8),(-110.8,7.9),(-109.7,8.55),(-110,11.9),(-112.2,12.3),(-112.4,14),(-110.8,14.4),(-108.9,14),(-108.3,15.4),(-108.6,16.45),(-110.5,17.7),(-110.8,18.75),(-110,19.2),(-111.4,20.6),(-112.4,23.1),(-114.6,25)],
[(-120.1,-.8),(-119,-.3),(-117.4,-1),(-116.5,-3.1),(-114.6,-4),(-114.3,-5.6),(-115.7,-6.25),(-117.1,-4.8),(-119.5,-3.5)],
[(-110.3,-3.1),(-108.9,-1.7),(-105.9,-1.25),(-104,-.2),(-102.1,-.6),(-102.1,-1.9),(-103.7,-3.5),(-106.5,-4.6),(-108.3,-5.8),(-110,-4.8)],
[(-102.6,-4.6),(-100.4,-3.5),(-99.3,-2.1),(-95.5,-1.7),(-93.3,-1),(-92.8,.4),(-90.9,-.6),(-92,-2.7),(-92,-4.4),(-94.7,-6),(-95.5,-4.8),(-98.3,-4.2),(-100.4,-5.85)],
[(-90.6,-.2),(-89.5,.4),(-88.9,-.2),(-90.1,-.5)],
[(-85.4,-1.9),(-84.6,-.2),(-82.4,.3),(-79.7,-.2),(-81.6,-1.25),(-82.2,-3.5),(-84.3,-4.2),(-85.2,-3.5)],
[(-83.8,-14.4),(-82.7,-12.5),(-80.3,-13.1),(-80.5,-14.4),(-82.2,-15.2)],
]
D_L2 = [
[(-147.1,7.9),(-144.9,9.2),(-143,8.55),(-142.2,7.3),(-143,5.85),(-145.5,6.05)],
[(-133.2,9.2),(-132.1,10.2),(-129.9,10.2),(-127.4,9.4),(-127.4,7.7),(-129.4,7.9),(-132.1,7.9)],
[(-123.9,7.5),(-123.2,8.05),(-122.5,7.3),(-123.2,6.9)],
[(-102,10.2),(-101,10.7),(-100.6,9.8),(-101.3,9.3)],
[(-95.2,-4.4),(-94.7,-2.9),(-92.8,-2.5),(-92,-4),(-92.5,-4.8),(-94.7,-6)],
[(-84.3,-3.1),(-84.1,-1.5),(-82.9,-1.5),(-82.9,-3.1),(-83.8,-3.9)],
[(-114.6,26.9),(-114.1,27.1),(-111.4,24.2),(-109.7,22.7),(-107.5,20.6),(-105.9,17.7),(-105.4,15.6),(-102.1,14.6),(-97.7,13.1),(-95,14.2),(-93.1,13.1),(-90.1,11.7),(-90.1,10),(-92.5,11.5),(-95,12.7),(-97.4,12.3),(-98.8,11.5),(-101.5,11.9),(-104.5,13.1),(-106.7,13.5),(-106.2,14.8),(-107.3,16.25),(-109.7,18.1),(-110.5,19),(-109.7,19.4),(-111.4,21.5),(-113,24)],
]
D_L3 = [
[(-113,24.8),(-111.4,24),(-109.7,22.7),(-107.5,20.6),(-105.9,17.7),(-105.4,15.8),(-106.2,15.2),(-107.3,17.3),(-109.7,18.55),(-110.5,19.4),(-110,20),(-111.4,21.7)],
[(-104,15),(-101.5,14.2),(-98,13.3),(-98.8,12.1),(-100.4,11.7),(-102.1,12.5),(-103.7,13.55)],
[(-95,14),(-92.8,13.1),(-91.2,11.5),(-91.7,10.65),(-93.9,11.9)],
[(-132.1,9.8),(-130.7,10),(-129.9,9),(-131,8.3),(-132.4,8.75)],
]
D_L5 = [
[(-111.9,22.9),(-110.8,22.5),(-109.7,22.3),(-107.8,20),(-109.7,20.4),(-111,21.25)],
[(-102.1,14.2),(-99.9,13.8),(-99.6,12.9),(-101,12.3),(-101.8,13.1)],
[(-131.5,9.6),(-130.5,9.8),(-130.2,9),(-131,8.6)],
]

ZONE_COLORS = {0: "#ffffff", 1: "#b1b2b4", 2: "#838486", 3: "#66676a", 4: "#525355", 5: "#3e3e40"}
ZONE_ORDER = {1: 1.0, 0: 1.5, 2: 2.0, 3: 3.0, 4: 4.0, 5: 5.0}
SWATCH_COLORS = ["#ffffff", "#b0b1b3", "#7f8082", "#5c5d5f", "#3b3b3d"]

PANELS = [
    dict(i=0, rect=(75, 42, 696, 523), xlim=(-156.8, -72.1), ylim=(-25.6, 34.5), sight=A_SIGHT + A_CLUSTER,
         zones=[(1, A_L1), (0, A_HOLES), (2, A_L2), (3, A_L3), (5, A_L5)], title_x=77, title_y=22, leg=(0, 0), letter=(112, 75), xpad=7, xshift=1),
    dict(i=1, rect=(777, 42, 1398, 523), xlim=(-156.8, -72.1), ylim=(-25.6, 34.5), sight=B_SIGHT,
         zones=[(1, B_L1), (2, B_L2), (3, B_L3), (4, B_L4)], title_x=778, title_y=22, leg=(700, -3), letter=(814, 75), xpad=7, xshift=4),
    dict(i=2, rect=(68, 621, 689, 1103), xlim=(-156.8, -72.1), ylim=(-25.9, 34.4), sight=C_SIGHT + C_CLUSTER,
         zones=[(1, C_L1), (2, C_L2), (3, C_L3), (5, C_L5)], title_x=68, title_y=597, leg=(-6, 579), letter=(113, 652), xpad=3, xshift=-2),
    dict(i=3, rect=(777, 621, 1397, 1103), xlim=(-156.8, -72.2), ylim=(-26, 34.25), sight=D_SIGHT,
         zones=[(1, D_L1), (2, D_L2), (3, D_L3), (5, D_L5)], title_x=778, title_y=597, leg=(700, 578), letter=(814, 652), xpad=3, xshift=2),
]

fig = plt.figure(figsize=(W / 100, H / 100), dpi=100, facecolor="white")
PX = Affine2D().scale(1, -1).translate(0, H)


def xy(points):
    return [p[0] for p in points], [p[1] for p in points]


def blob_path(poly):
    """Closed outline through the read vertices, drawn with rounded (quadratic) corners."""
    n = len(poly)
    mids = [((poly[i][0] + poly[(i + 1) % n][0]) / 2, (poly[i][1] + poly[(i + 1) % n][1]) / 2) for i in range(n)]
    verts = [mids[-1]]
    codes = [Path.MOVETO]
    for i in range(n):
        verts += [poly[i], mids[i]]
        codes += [Path.CURVE3, Path.CURVE3]
    return Path(verts, codes)


for p in PANELS:
    l, t, r, b = p["rect"]
    ax = fig.add_axes([l / W, 1 - b / H, (r - l) / W, (b - t) / H])
    for level, polys in p["zones"]:
        color = ZONE_COLORS[level]
        for poly in polys:
            ax.add_patch(PathPatch(blob_path(poly), facecolor=color, edgecolor=color, linewidth=1.2, zorder=ZONE_ORDER[level]))
    for line in COAST_LINES:
        xs, ys = xy(line)
        ax.plot(xs, ys, color="#1f1f20", lw=0.95, zorder=7, solid_joinstyle="round")
    xs, ys = xy(STUDY_AREA)
    ax.plot(xs, ys, color="#707173", lw=1.1, zorder=7)
    sx, sy = xy(p["sight"])
    sns.scatterplot(data=pd.DataFrame({"lon": sx, "lat": sy}), x="lon", y="lat", ax=ax, color="#1c1a1b",
                    s=21, linewidth=0, legend=False, zorder=8)
    ax.set_xlim(*p["xlim"])
    ax.set_ylim(*p["ylim"])
    ax.set_xlabel("")
    ax.set_ylabel("")
    ax.set_xticks(X_TICKS, X_LABELS)
    ax.set_yticks(Y_TICKS, Y_LABELS)
    ax.tick_params(axis="both", length=4, width=1.1, color="#4d4d4f", labelsize=14.5, labelcolor=TXT,
                   bottom=True, left=True)
    ax.tick_params(axis="y", pad=2)
    ax.tick_params(axis="x", pad=p["xpad"])
    for lab in ax.get_xticklabels():
        lab.set_transform(lab.get_transform() + Affine2D().translate(p["xshift"], 0))
    for s in ax.spines.values():
        s.set_visible(True)
        s.set_color("#4d4d4f")
        s.set_linewidth(1.7)
    fig.text(p["title_x"], p["title_y"], TITLES[p["i"]], transform=PX, fontsize=19, color=TXT, ha="left", va="center")
    fig.text(p["letter"][0], p["letter"][1], LETTERS[p["i"]], transform=PX, fontsize=23, color=TXT, ha="center", va="center")
    dx, dy = p["leg"]
    fig.add_artist(Line2D([102 + dx], [375 + dy], transform=PX, marker="o", ms=3.6, mfc="#1c1a1b", mec="none", ls=""))
    fig.text(112 + dx, 378 + dy, LEGEND_LABELS[0], transform=PX, fontsize=14.8, color=TXT, ha="left", va="center")
    fig.text(87 + dx, 410 + dy, LEGEND_LABELS[1], transform=PX, fontsize=14.8, color=TXT, ha="left", va="center")
    for k, (c, y0) in enumerate(zip(SWATCH_COLORS, [422, 441, 459, 478, 497])):
        fig.add_artist(Rectangle((89 + dx, y0 + dy), 28, 15, transform=PX, facecolor=c, edgecolor="#808183", linewidth=1.2))
    fig.text(126 + dx, 430 + dy, LEGEND_LABELS[2], transform=PX, fontsize=14.8, color=TXT, ha="left", va="center")
    fig.text(126 + dx, 507 + dy, LEGEND_LABELS[3], transform=PX, fontsize=14.8, color=TXT, ha="left", va="center")

fig.savefig("out.png", dpi=100, facecolor="white")
